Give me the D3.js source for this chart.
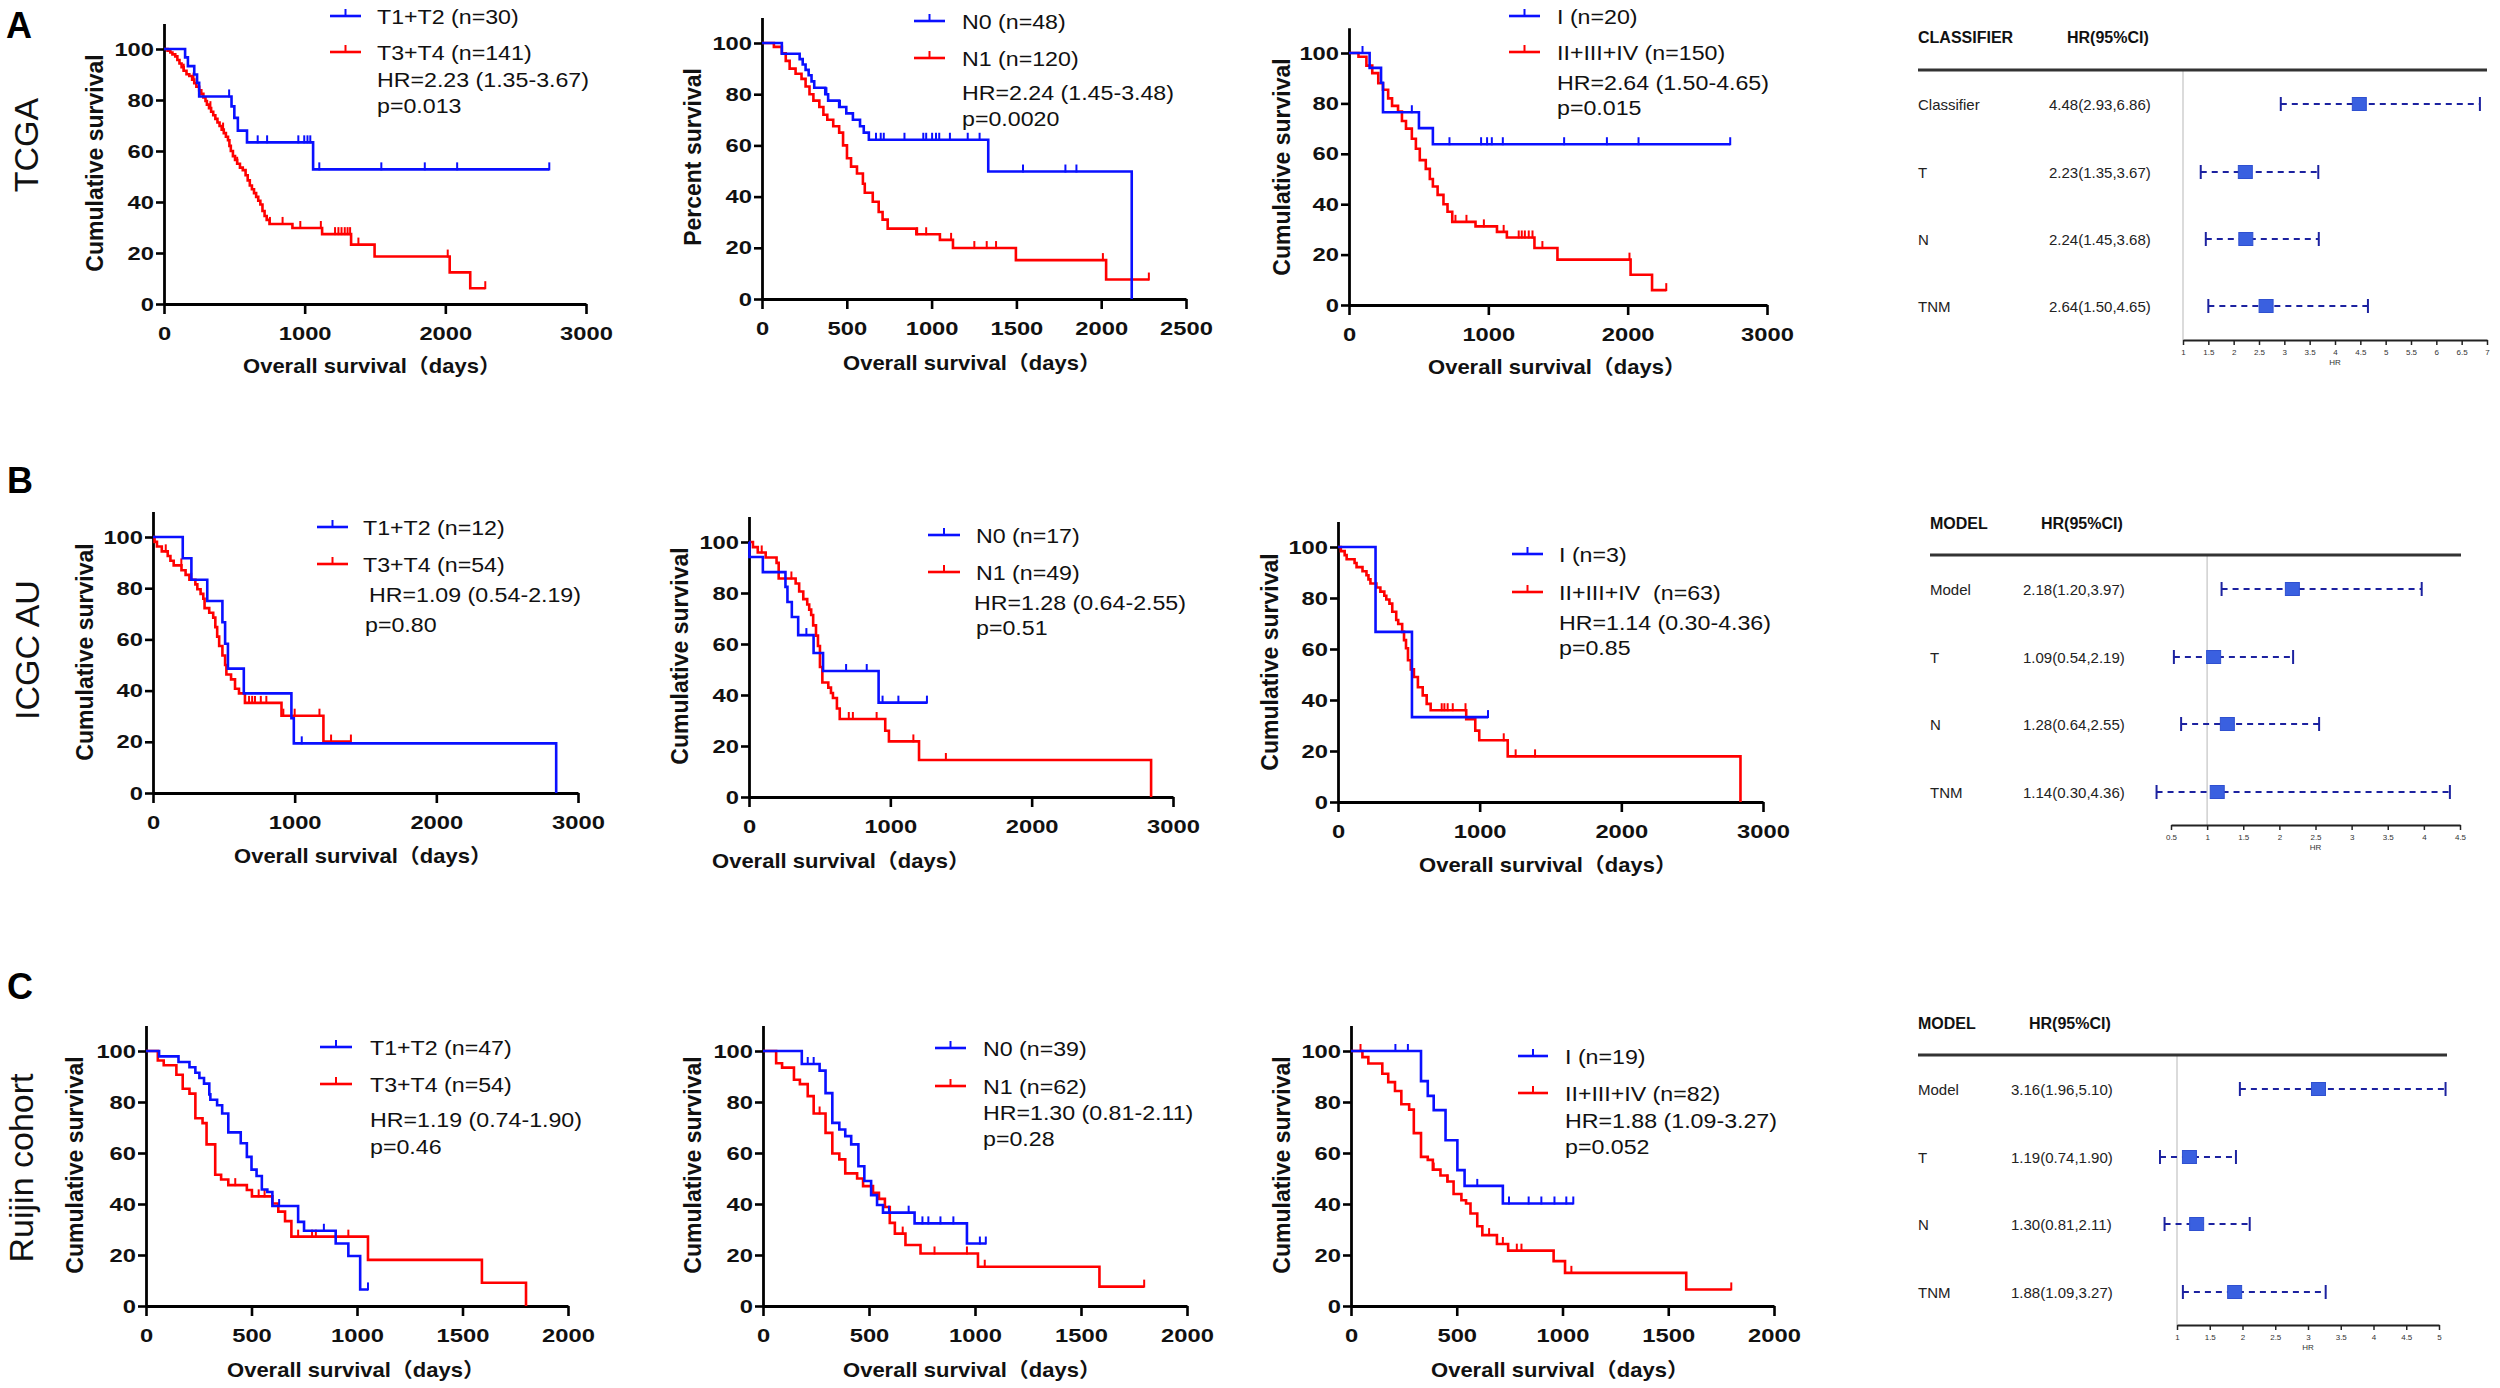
<!DOCTYPE html>
<html><head><meta charset="utf-8">
<script src="https://cdn.jsdelivr.net/npm/d3@7/dist/d3.min.js"></script>
<style>body{margin:0;background:#fff}svg{display:block}</style>
</head><body>
<svg id="c" width="2500" height="1388"></svg>
<script>
// ---------------- DATA ----------------
const yTicks = [0, 20, 40, 60, 80, 100];
const xTicks3000 = [0, 1000, 2000, 3000];
const xTicks2500 = [0, 500, 1000, 1500, 2000, 2500];
const xTicks2000 = [0, 500, 1000, 1500, 2000];

// Row A: TCGA  (steps: [time, survival after drop]; cens: censor times)
const A1_blue_steps = [[150,96.7],[170,93.3],[215,90],[235,86.7],[250,81.4],[480,77.5],[500,73],[525,68],[590,63.4],[1060,52.8]];
const A1_blue_cens = [463,666,733,955,997,1020,1040,1104,1545,1854,2084,2739];
const A1_red_steps = [[25,99.3],[45,98.6],[60,97.9],[80,97.1],[95,95.7],[110,94.3],[125,92.9],[140,91.5],[160,90.1],[180,89.4],[200,88],[215,86.6],[230,85.2],[250,83.8],[265,82.4],[280,81],[295,79.6],[305,78.2],[320,76.8],[335,75.4],[350,74],[365,72.6],[380,71.2],[395,69.8],[410,68.4],[425,67],[440,65.6],[455,64.2],[465,62],[475,60],[490,58],[505,56.5],[520,55],[540,53.5],[560,52.5],[580,50.5],[595,48.5],[610,46.5],[625,45],[640,43.5],[655,42],[670,40.5],[685,39],[700,36.5],[715,34.5],[730,33],[750,31.4],[913,29.8],[1124,27.4],[1330,23.3],[1497,18.6],[2031,12.4],[2177,6.2]];
const A1_red_cens = [140,210,330,420,520,753,843,969,1115,1216,1240,1262,1285,1305,1323,1382,2017,2284];

const A2_blue_steps = [[117,95.8],[222,93.7],[240,91.6],[257,89.5],[275,87.4],[292,85],[308,82.5],[373,80],[390,77.5],[455,75],[497,72.5],[536,70],[578,67.5],[600,65],[630,62.2],[1334,49.8],[2180,0]];
const A2_blue_cens = [380,460,672,700,718,840,951,968,1003,1026,1045,1108,1213,1283,1539,1789,1854];
const A2_red_steps = [[70,98.5],[117,96],[140,93],[163,90],[198,88],[233,86],[257,83],[280,80],[303,77.5],[338,75],[362,72],[385,70],[420,67.5],[455,65],[478,60],[501,55],[525,51.7],[560,49],[595,45],[606,41.5],[653,38],[688,34],[711,31],[741,27.5],[910,25.3],[1049,23.1],[1126,19.9],[1497,15.2],[2029,7.6]];
const A2_red_cens = [915,968,1115,1252,1325,1380,2010,2281];

const A3_blue_steps = [[148,94.1],[230,88.2],[244,76.5],[502,70.2],[602,63.8]];
const A3_blue_cens = [97,451,721,948,991,1025,1104,1544,1851,2078,2736];
const A3_red_steps = [[68,98.5],[125,95],[167,92],[210,88],[244,85.4],[281,82],[309,79],[352,76.8],[380,73],[409,70],[451,66],[480,62],[508,57.5],[551,54],[580,50],[602,47],[636,43.7],[678,40],[707,37],[741,33],[908,31.2],[1062,29],[1133,26.8],[1331,22.6],[1496,18],[2021,12],[2175,5.9]];
const A3_red_cens = [764,843,968,1110,1218,1240,1262,1290,1317,1388,2013,2277];

// Row B: ICGC AU
const B1_blue_steps = [[210,91.7],[271,83.3],[383,75],[490,66.7],[509,58.3],[529,48.6],[641,38.9],[977,29.2],[994,19.4],[2846,0]];
const B1_blue_cens = [1050];
const B1_red_steps = [[11,98.1],[28,96.3],[62,94.4],[104,92.6],[123,90.7],[146,88.9],[201,87],[230,85.2],[257,83.3],[299,81.5],[313,79.6],[336,77.8],[355,75.9],[364,72.2],[397,70.4],[425,68.5],[440,64.8],[453,61.1],[467,57.4],[490,53.7],[509,50],[518,46.3],[551,44.4],[579,40.7],[607,38.9],[649,35.2],[907,30.2],[1203,20.1]];
const B1_red_cens = [90,200,270,678,700,720,761,800,920,1000,1175,1257,1397];

const B2_blue_steps = [[3,94.1],[98,88.2],[258,82.4],[272,76.5],[303,70.6],[348,63.5],[457,56.5],[524,49.4],[917,37]];
const B2_blue_cens = [406,687,833,945,1057,1259];
const B2_red_steps = [[28,98],[62,95.9],[118,93.9],[195,91.8],[210,85.7],[330,83.7],[355,80.6],[384,77.6],[412,75.5],[426,73.5],[440,71.4],[454,67.3],[474,63.3],[488,59.2],[502,51],[519,44.9],[561,42.9],[580,40.8],[594,38.8],[622,34.7],[642,30.6],[964,26],[990,21.8],[1203,14.5],[2845,0]];
const B2_red_cens = [90,300,706,735,903,1163,1393];

const B3_blue_steps = [[265,66.7],[522,33.3]];
const B3_blue_cens = [1059];
const B3_red_steps = [[20,98.4],[47,96.8],[61,95.2],[117,93.7],[131,92.1],[173,90.5],[201,88.9],[215,87.3],[229,85.7],[271,84.1],[299,82.5],[327,80.9],[341,79.4],[363,77.8],[383,74.6],[411,71.4],[425,69.8],[453,66.7],[466,63.5],[480,60.3],[494,55.6],[514,52],[536,49],[564,45],[598,41.8],[626,38.5],[654,36],[905,32.5],[969,28],[997,24.2],[1198,17.9],[2841,0]];
const B3_red_cens = [732,751,774,810,900,1170,1254,1391];

// Row C: Ruijin cohort
const C1_blue_steps = [[62,97.9],[154,95.7],[206,93.6],[234,91.5],[253,89.4],[275,87.2],[300,83],[305,80.9],[337,78.7],[361,75.5],[390,68.1],[449,63.8],[478,58.5],[500,53.5],[524,51],[549,45.7],[575,44.7],[599,39.2],[721,33],[749,29.5],[899,24.5],[959,19.6],[1015,6.5]];
const C1_blue_cens = [631,843,1052];
const C1_red_steps = [[56,96.3],[84,94.4],[144,90.7],[174,85.2],[206,83.3],[234,73.6],[268,71.7],[287,63.4],[328,51.5],[356,49.6],[390,47.4],[478,45.5],[502,43],[599,40.2],[627,37],[659,33.3],[689,27.2],[1052,18.1],[1592,9.1],[1801,0]];
const C1_red_cens = [423,534,562,721,787,805,959];

const C2_blue_steps = [[183,94.9],[267,92.3],[295,83.5],[327,71.8],[360,69.2],[388,66.6],[416,63.4],[450,54.8],[478,49],[510,43.5],[538,39.6],[566,36.6],[715,32.4],[962,24.5]];
const C2_blue_cens = [211,239,594,687,752,780,837,898,1023,1051];
const C2_red_steps = [[62,95.2],[90,93.5],[146,88.7],[174,87],[211,82.3],[239,75.5],[295,67.9],[327,59.8],[360,57.5],[388,52],[444,50],[472,47],[519,44.4],[547,42],[575,38.8],[598,32.6],[622,28.4],[672,23.9],[743,20.6],[1014,15.4],[1587,7.6]];
const C2_red_cens = [267,659,809,962,1046,1798];

const C3_blue_steps = [[331,88.2],[363,82.4],[391,76.8],[447,65],[503,53.3],[537,47.1],[718,40.2]];
const C3_blue_cens = [210,269,597,747,840,900,962,1018,1051];
const C3_red_steps = [[54,97.6],[82,95.1],[148,91.1],[176,87.8],[208,84.3],[238,79.1],[275,77],[297,67.8],[331,58.5],[363,57.3],[387,53.5],[423,51.2],[456,48.8],[485,43.9],[522,41.5],[544,40.2],[565,36.3],[597,31.3],[621,27.8],[690,24.3],[743,21.7],[958,17.6],[1012,13],[1585,6.5]];
const C3_red_cens = [45,391,456,653,718,784,806,1042,1798];

// Legend / statistics text
const A1_legend = ["T1+T2 (n=30)", "T3+T4 (n=141)"]; const A1_stats = ["HR=2.23 (1.35-3.67)", "p=0.013"];
const A2_legend = ["N0 (n=48)", "N1 (n=120)"];     const A2_stats = ["HR=2.24 (1.45-3.48)", "p=0.0020"];
const A3_legend = ["I (n=20)", "II+III+IV (n=150)"]; const A3_stats = ["HR=2.64 (1.50-4.65)", "p=0.015"];
const B1_legend = ["T1+T2 (n=12)", "T3+T4 (n=54)"]; const B1_stats = ["HR=1.09 (0.54-2.19)", "p=0.80"];
const B2_legend = ["N0 (n=17)", "N1 (n=49)"];       const B2_stats = ["HR=1.28 (0.64-2.55)", "p=0.51"];
const B3_legend = ["I (n=3)", "II+III+IV  (n=63)"]; const B3_stats = ["HR=1.14 (0.30-4.36)", "p=0.85"];
const C1_legend = ["T1+T2 (n=47)", "T3+T4 (n=54)"]; const C1_stats = ["HR=1.19 (0.74-1.90)", "p=0.46"];
const C2_legend = ["N0 (n=39)", "N1 (n=62)"];       const C2_stats = ["HR=1.30 (0.81-2.11)", "p=0.28"];
const C3_legend = ["I (n=19)", "II+III+IV (n=82)"]; const C3_stats = ["HR=1.88 (1.09-3.27)", "p=0.052"];

// Forest plots
const forestA_labels = ["Classifier", "T", "N", "TNM"];
const forestA_hr = [4.48, 2.23, 2.24, 2.64];
const forestA_lo = [2.93, 1.35, 1.45, 1.50];
const forestA_hi = [6.86, 3.67, 3.68, 4.65];
const forestA_ticks = [1,1.5,2,2.5,3,3.5,4,4.5,5,5.5,6,6.5,7];

const forestB_labels = ["Model", "T", "N", "TNM"];
const forestB_hr = [2.18, 1.09, 1.28, 1.14];
const forestB_lo = [1.20, 0.54, 0.64, 0.30];
const forestB_hi = [3.97, 2.19, 2.55, 4.36];
const forestB_ticks = [0.5,1,1.5,2,2.5,3,3.5,4,4.5];

const forestC_labels = ["Model", "T", "N", "TNM"];
const forestC_hr = [3.16, 1.19, 1.30, 1.88];
const forestC_lo = [1.96, 0.74, 0.81, 1.09];
const forestC_hi = [5.10, 1.90, 2.11, 3.27];
const forestC_ticks = [1,1.5,2,2.5,3,3.5,4,4.5,5];

// ---------------- DRAWING ----------------
const svg = d3.select("#c");
const FONT = "'Liberation Sans', Arial, 'Noto Sans CJK SC', sans-serif";
const NARROW = "'Liberation Sans Narrow', 'Arial Narrow', 'Liberation Sans', Arial, sans-serif";
const BLUE = "#0a10ff", RED = "#ff0000";
const SX = 1.16;     // horizontal stretch of the reference lettering
const TSX = 1.25;    // stretch for axis tick numbers

function txt(g, x, y, s, o = {}) {
  return g.append("text")
    .attr("transform", `translate(${x},${y}) scale(${o.sx || SX},1)`)
    .attr("text-anchor", o.anchor || "start")
    .attr("dominant-baseline", o.base || "central")
    .attr("font-family", o.family || FONT)
    .attr("font-weight", o.bold ? "bold" : "normal")
    .attr("font-size", o.size || 20)
    .attr("fill", o.fill || "#111")
    .attr("xml:space", "preserve")
    .text(s);
}

function survAt(steps, t) { let s = 100; for (const [tt, ss] of steps) { if (tt <= t) s = ss; else break; } return s; }

function kmPoints(steps, cens) {
  const lastStep = steps.length ? steps[steps.length - 1][0] : 0;
  const end = Math.max(lastStep, cens.length ? d3.max(cens) : 0);
  const pts = [[0, 100]]; let s = 100;
  for (const [t, ns] of steps) { pts.push([t, s]); pts.push([t, ns]); s = ns; }
  if (end > pts[pts.length - 1][0]) pts.push([end, s]);
  return pts;
}

function drawKM(p) {
  const g = svg.append("g");
  const x = d3.scaleLinear().domain([0, p.xmax]).range([p.x0, p.x1]);
  const y = d3.scaleLinear().domain([0, 100]).range([p.y0, p.y100]);
  const yAx = d3.scaleLinear().domain([0, 110]).range([p.y0, y(110)]);

  const ySize = 8, yPad = 2;
  const gy = g.append("g").attr("transform", `translate(${p.x0},0)`)
    .call(d3.axisLeft(yAx).tickValues(yTicks).tickSize(ySize).tickPadding(yPad).tickSizeOuter(0).tickFormat(d3.format("d")));
  const gx = g.append("g").attr("transform", `translate(0,${p.y0})`)
    .call(d3.axisBottom(x).tickValues(p.xticks).tickSize(10).tickPadding(13).tickSizeOuter(0).tickFormat(d3.format("d")));
  [gx, gy].forEach(a => {
    a.select(".domain").attr("stroke", "#000").attr("stroke-width", 2.8);
    a.selectAll(".tick line").attr("stroke", "#000").attr("stroke-width", 2.6);
    a.selectAll(".tick text").attr("font-family", FONT).attr("font-size", 19).attr("font-weight", "bold")
      .attr("fill", "#111").attr("transform", `scale(${TSX},1)`);
  });
  gy.selectAll(".tick text").attr("x", -(ySize + yPad) / TSX);

  // axis titles
  g.append("text").attr("transform", `translate(${p.ytx},${p.yty}) rotate(-90)`)
    .attr("text-anchor", "middle").attr("font-family", FONT).attr("font-weight", "bold")
    .attr("font-size", 23).attr("fill", "#111").text(p.ytitle);
  txt(g, p.xtx, p.xty, "Overall survival（days）", { anchor: "middle", base: "auto", bold: true, size: 20, sx: 1.1 });

  // curves: red first, then blue on top
  const line = d3.line().x(d => x(d[0])).y(d => y(d[1]));
  const cols = [BLUE, RED];
  [1, 0].forEach(i => {
    const c = p.curves[i];
    g.append("path").attr("d", line(kmPoints(c.steps, c.cens)))
      .attr("fill", "none").attr("stroke", cols[i]).attr("stroke-width", 2.6);
    g.selectAll(null).data(c.cens).enter().append("line")
      .attr("x1", d => x(d)).attr("x2", d => x(d))
      .attr("y1", d => y(survAt(c.steps, d)) + 1).attr("y2", d => y(survAt(c.steps, d)) - 7)
      .attr("stroke", cols[i]).attr("stroke-width", 2);
  });

  // legend
  p.legend.forEach((lab, i) => {
    const ly = p.ly[i];
    g.append("line").attr("x1", p.lx0).attr("x2", p.lx1).attr("y1", ly).attr("y2", ly)
      .attr("stroke", cols[i]).attr("stroke-width", 2.6);
    const mx = (p.lx0 + p.lx1) / 2;
    g.append("line").attr("x1", mx).attr("x2", mx).attr("y1", ly).attr("y2", ly - 7)
      .attr("stroke", cols[i]).attr("stroke-width", 2);
    txt(g, p.tx, ly + 1, lab);
  });
  p.stats.forEach((s, i) => txt(g, p.sx[i], p.sy[i], s));
}

const panels = [
  {x0:164,x1:586,xmax:3000,xticks:xTicks3000,y0:304,y100:49,ytx:103,yty:163,ytitle:"Cumulative survival",xtx:372,xty:373,
   curves:[{steps:A1_blue_steps,cens:A1_blue_cens},{steps:A1_red_steps,cens:A1_red_cens}],
   legend:A1_legend,lx0:330,lx1:361,ly:[16,52],tx:377,stats:A1_stats,sx:[377,377],sy:[80,106]},
  {x0:762,x1:1186,xmax:2500,xticks:xTicks2500,y0:299,y100:43,ytx:701,yty:157,ytitle:"Percent survival",xtx:972,xty:370,
   curves:[{steps:A2_blue_steps,cens:A2_blue_cens},{steps:A2_red_steps,cens:A2_red_cens}],
   legend:A2_legend,lx0:914,lx1:945,ly:[21,58],tx:962,stats:A2_stats,sx:[962,962],sy:[93,119]},
  {x0:1349,x1:1767,xmax:3000,xticks:xTicks3000,y0:305,y100:53,ytx:1290,yty:167,ytitle:"Cumulative survival",xtx:1557,xty:374,
   curves:[{steps:A3_blue_steps,cens:A3_blue_cens},{steps:A3_red_steps,cens:A3_red_cens}],
   legend:A3_legend,lx0:1509,lx1:1540,ly:[16,52],tx:1557,stats:A3_stats,sx:[1557,1557],sy:[83,108]},

  {x0:153,x1:578,xmax:3000,xticks:xTicks3000,y0:793,y100:537,ytx:93,yty:652,ytitle:"Cumulative survival",xtx:363,xty:863,
   curves:[{steps:B1_blue_steps,cens:B1_blue_cens},{steps:B1_red_steps,cens:B1_red_cens}],
   legend:B1_legend,lx0:317,lx1:348,ly:[527,564],tx:363,stats:B1_stats,sx:[369,365],sy:[595,625]},
  {x0:749,x1:1173,xmax:3000,xticks:xTicks3000,y0:797,y100:542,ytx:688,yty:656,ytitle:"Cumulative survival",xtx:841,xty:868,
   curves:[{steps:B2_blue_steps,cens:B2_blue_cens},{steps:B2_red_steps,cens:B2_red_cens}],
   legend:B2_legend,lx0:928,lx1:960,ly:[535,572],tx:976,stats:B2_stats,sx:[974,976],sy:[603,628]},
  {x0:1338,x1:1763,xmax:3000,xticks:xTicks3000,y0:802,y100:547,ytx:1278,yty:662,ytitle:"Cumulative survival",xtx:1548,xty:872,
   curves:[{steps:B3_blue_steps,cens:B3_blue_cens},{steps:B3_red_steps,cens:B3_red_cens}],
   legend:B3_legend,lx0:1512,lx1:1543,ly:[554,592],tx:1559,stats:B3_stats,sx:[1559,1559],sy:[623,648]},

  {x0:146,x1:568,xmax:2000,xticks:xTicks2000,y0:1306,y100:1051,ytx:83,yty:1165,ytitle:"Cumulative survival",xtx:356,xty:1377,
   curves:[{steps:C1_blue_steps,cens:C1_blue_cens},{steps:C1_red_steps,cens:C1_red_cens}],
   legend:C1_legend,lx0:320,lx1:352,ly:[1047,1084],tx:370,stats:C1_stats,sx:[370,370],sy:[1120,1147]},
  {x0:763,x1:1187,xmax:2000,xticks:xTicks2000,y0:1306,y100:1051,ytx:701,yty:1165,ytitle:"Cumulative survival",xtx:972,xty:1377,
   curves:[{steps:C2_blue_steps,cens:C2_blue_cens},{steps:C2_red_steps,cens:C2_red_cens}],
   legend:C2_legend,lx0:935,lx1:966,ly:[1048,1086],tx:983,stats:C2_stats,sx:[983,983],sy:[1113,1139]},
  {x0:1351,x1:1774,xmax:2000,xticks:xTicks2000,y0:1306,y100:1051,ytx:1290,yty:1165,ytitle:"Cumulative survival",xtx:1560,xty:1377,
   curves:[{steps:C3_blue_steps,cens:C3_blue_cens},{steps:C3_red_steps,cens:C3_red_cens}],
   legend:C3_legend,lx0:1518,lx1:1548,ly:[1056,1093],tx:1565,stats:C3_stats,sx:[1565,1565],sy:[1121,1147]}
];
panels.forEach(drawKM);

function drawForest(f) {
  const g = svg.append("g");
  const x = d3.scaleLinear().domain(f.domain).range(f.range);
  txt(g, f.lx, f.hy, f.head, { family: NARROW, bold: true, size: 16, sx: 1 });
  txt(g, f.hx, f.hy, "HR(95%CI)", { family: NARROW, bold: true, size: 16, sx: 1 });
  g.append("line").attr("x1", x(1)).attr("x2", x(1)).attr("y1", f.lineY).attr("y2", f.axisY)
    .attr("stroke", "#cfcfcf").attr("stroke-width", 1.5);
  g.append("line").attr("x1", f.lx).attr("x2", f.lineX1).attr("y1", f.lineY).attr("y2", f.lineY)
    .attr("stroke", "#333").attr("stroke-width", 3);

  f.labels.forEach((lab, i) => {
    const ry = f.rows[i];
    txt(g, f.lx, ry, lab, { family: NARROW, size: 15, fill: "#222", sx: 1 });
    txt(g, f.vx, ry, `${f.hr[i].toFixed(2)}(${f.lo[i].toFixed(2)},${f.hi[i].toFixed(2)})`,
        { family: NARROW, size: 15, fill: "#222", sx: 1 });
    g.append("line").attr("x1", x(f.lo[i])).attr("x2", x(f.hi[i])).attr("y1", ry).attr("y2", ry)
      .attr("stroke", "#1c22a0").attr("stroke-width", 2).attr("stroke-dasharray", "6,5");
    [f.lo[i], f.hi[i]].forEach(v => {
      g.append("line").attr("x1", x(v)).attr("x2", x(v)).attr("y1", ry - 7).attr("y2", ry + 7)
        .attr("stroke", "#1c22a0").attr("stroke-width", 2);
    });
    g.append("rect").attr("x", x(f.hr[i]) - 7).attr("y", ry - 6.5).attr("width", 14).attr("height", 13)
      .attr("fill", "#3a60e0").attr("stroke", "#2f50d0").attr("stroke-width", 1);
  });

  const ax = g.append("g").attr("transform", `translate(0,${f.axisY})`)
    .call(d3.axisBottom(x).tickValues(f.ticks).tickSize(5).tickPadding(4).tickSizeOuter(0).tickFormat(d3.format("~g")));
  ax.select(".domain").attr("stroke", "#222").attr("stroke-width", 2.2);
  ax.selectAll(".tick line").attr("stroke", "#222").attr("stroke-width", 1.5);
  ax.selectAll(".tick text").attr("font-family", NARROW).attr("font-size", 8).attr("fill", "#333");
  txt(g, (f.range[0] + f.range[1]) / 2, f.axisY + 22, "HR", { anchor: "middle", family: NARROW, size: 8, fill: "#333", sx: 1 });
}

drawForest({labels:forestA_labels,hr:forestA_hr,lo:forestA_lo,hi:forestA_hi,ticks:forestA_ticks,domain:[1,7],range:[2183,2487],
  head:"CLASSIFIER",lx:1918,hx:2067,vx:2049,hy:37,lineY:70,lineX1:2487,rows:[104,172,239,306],axisY:340});
drawForest({labels:forestB_labels,hr:forestB_hr,lo:forestB_lo,hi:forestB_hi,ticks:forestB_ticks,domain:[0.5,4.5],range:[2171,2460],
  head:"MODEL",lx:1930,hx:2041,vx:2023,hy:523,lineY:555,lineX1:2461,rows:[589,657,724,792],axisY:825});
drawForest({labels:forestC_labels,hr:forestC_hr,lo:forestC_lo,hi:forestC_hi,ticks:forestC_ticks,domain:[1,5],range:[2177,2439],
  head:"MODEL",lx:1918,hx:2029,vx:2011,hy:1023,lineY:1055,lineX1:2447,rows:[1089,1157,1224,1292],axisY:1325});

// panel letters and cohort labels
[["A",6,38],["B",7,493],["C",7,999]].forEach(([t, xx, yy]) => {
  svg.append("text").attr("x", xx).attr("y", yy).attr("font-family", FONT).attr("font-weight", "bold")
    .attr("font-size", 36).attr("fill", "#000").text(t);
});
[["TCGA",38,145],["ICGC AU",39,650],["Ruijin cohort",33,1168]].forEach(([t, xx, yy]) => {
  svg.append("text").attr("transform", `translate(${xx},${yy}) rotate(-90)`).attr("text-anchor", "middle")
    .attr("font-family", FONT).attr("font-size", 34).attr("fill", "#111").text(t);
});
</script>
</body></html>
